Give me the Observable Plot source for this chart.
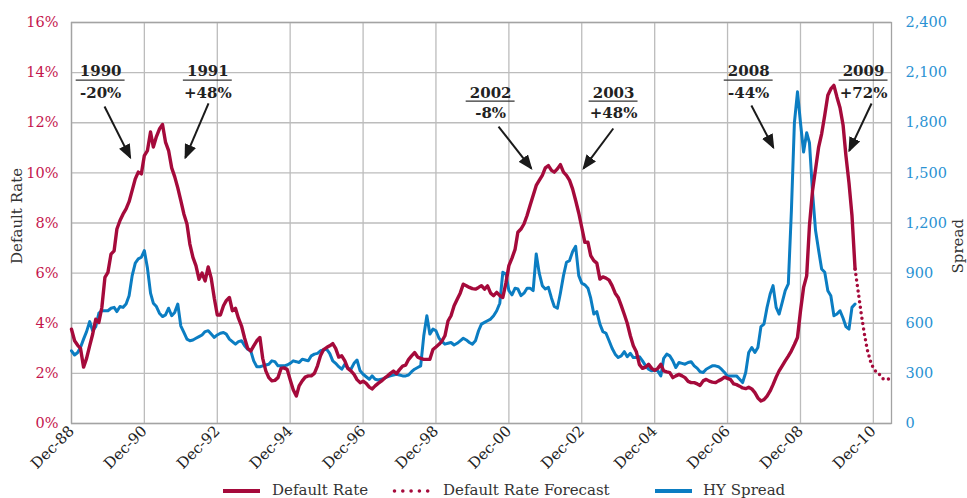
<!DOCTYPE html>
<html>
<head>
<meta charset="utf-8">
<script src="https://cdn.jsdelivr.net/npm/d3@7"></script>
<script src="https://cdn.jsdelivr.net/npm/@observablehq/plot@0.6"></script>
<style>
  body { margin: 0; background: #fff; overflow: hidden; }
  #chart { width: 967px; height: 498px; position: relative; }
  #chart svg { display: block; }
  #legend { position: relative; height: 19px; font: 15px "DejaVu Serif", serif; color: #333; }
  #legend .swatch { position: absolute; top: 8px; }
  #legend .name { position: absolute; top: 4px; line-height: 15px; white-space: nowrap; }
</style>
</head>
<body>
<div id="chart"></div>
<script>
// Monthly speculative-grade default rate (%), Dec 1988 – Jun 2010
const rateStart = "1988-12";
const defaultRate = [
  3.76,
  3.3, 3.12, 3.0, 2.25, 2.6, 3.1, 3.56, 4.16, 4.03, 4.63, 5.83, 6.03,
  6.76, 6.89, 7.76, 8.1, 8.35, 8.56, 8.85, 9.3, 9.76, 10.03, 9.96, 10.69,
  10.89, 11.63, 11.03, 11.45, 11.75, 11.93, 11.23, 10.89, 10.2, 9.85, 9.4, 8.9,
  8.36, 7.96, 7.16, 6.63, 6.3, 5.75, 6.0, 5.69, 6.25, 5.8, 5.0, 4.33,
  4.33, 4.7, 4.9, 5.03, 4.5, 4.6, 4.2, 3.89, 3.4, 3.0, 2.89, 3.1,
  3.3, 3.43, 2.6, 2.1, 1.83, 1.7, 1.72, 1.83, 2.2, 2.22, 2.16, 1.75,
  1.35, 1.1, 1.5, 1.7, 1.85, 1.9, 1.9, 2.0, 2.3, 2.7, 2.95, 3.03,
  3.1, 3.19, 3.0, 2.65, 2.7, 2.5, 2.2, 2.1, 1.96, 1.75, 1.63, 1.69,
  1.6, 1.45, 1.38, 1.5, 1.6, 1.69, 1.8, 1.89, 2.0, 2.09, 1.99, 2.15,
  2.29, 2.33, 2.55, 2.7, 2.83, 2.65, 2.6, 2.56, 2.56, 2.56, 2.95, 3.05,
  3.16, 3.3, 3.5, 4.09, 4.3, 4.7, 4.95, 5.2, 5.56, 5.5, 5.43, 5.38,
  5.36, 5.43, 5.5, 5.36, 5.49, 5.2, 5.1, 5.23, 5.1, 5.03, 5.6, 6.3,
  6.6, 6.95, 7.63, 7.76, 7.96, 8.3, 8.7, 9.1, 9.5, 9.7, 9.9, 10.2,
  10.29, 10.1, 10.03, 10.16, 10.33, 10.03, 9.9, 9.7, 9.35, 8.9, 8.4, 7.83,
  7.23, 7.23, 6.7, 6.5, 6.4, 5.76, 5.85, 5.8, 5.72, 5.5, 5.2, 5.03,
  4.7, 4.35, 4.0, 3.5, 3.1, 2.85, 2.35, 2.2, 2.25, 2.36, 2.2, 2.12,
  2.2, 2.36, 2.1, 2.06, 2.03, 1.83, 1.9, 1.96, 1.9, 1.83, 1.68, 1.63,
  1.63, 1.58, 1.52, 1.7, 1.76, 1.69, 1.65, 1.63, 1.7, 1.76, 1.85, 1.8,
  1.75, 1.58, 1.55, 1.49, 1.42, 1.39, 1.45, 1.38, 1.23, 1.02, 0.9, 0.95,
  1.09, 1.3, 1.55, 1.85, 2.1, 2.3, 2.5, 2.69, 2.9, 3.15, 3.43, 4.49,
  5.43, 5.89, 7.9, 9.3, 10.15, 11.03, 11.56, 12.3, 13.1, 13.35, 13.49, 13.03,
  12.6, 11.9, 10.7, 9.6, 8.3, 6.16
];

// Monthly default rate forecast (%), Jun 2010 – Jun 2011
const forecastStart = "2010-06";
const forecastRate = [6.16, 5.3, 4.4, 3.6, 2.95, 2.5, 2.2, 2.05, 1.95, 1.8, 1.76, 1.78, 1.76];

// Monthly high-yield spread (bp), Dec 1988 – Jun 2010
const spreadStart = "1988-12";
const hySpread = [
  435,
  410, 425, 455, 505, 550, 610, 555, 580, 660, 675, 675, 675,
  690, 695, 670, 700, 695, 715, 765, 885, 960, 985, 995, 1035,
  930, 780, 720, 700, 660, 640, 650, 690, 645, 665, 715, 585,
  545, 505, 495, 500, 510, 520, 530, 550, 555, 535, 515, 530,
  540, 545, 535, 505, 490, 475, 490, 495, 465, 445, 435, 375,
  340, 340, 345, 350, 355, 375, 370, 345, 345, 345, 350, 360,
  375, 370, 365, 385, 380, 375, 405, 415, 420, 435, 440, 445,
  420, 375, 360, 340, 325, 355, 330, 325, 360, 380, 315, 295,
  280, 265, 285, 265, 260, 265, 270, 280, 285, 290, 295, 290,
  285, 285, 290, 310, 325, 335, 345, 525, 645, 535, 565, 555,
  510, 490, 475, 480, 485, 470, 480, 495, 510, 500, 485, 475,
  495, 555, 595, 605, 615, 625, 645, 675, 720, 905, 895, 795,
  770, 810, 805, 765, 780, 810, 810, 795, 1015, 900, 825, 805,
  815, 750, 700, 690, 780, 885, 965, 975, 1030, 1060, 885, 840,
  830, 810, 750, 655, 670, 595, 550, 540, 495, 450, 415, 395,
  405, 430, 400, 420, 395, 395, 400, 375, 345, 325, 315, 320,
  315, 285, 390, 415, 405, 375, 335, 365, 360, 355, 365, 370,
  345, 330, 310, 305, 325, 335, 345, 345, 340, 325, 305, 285,
  285, 285, 285, 265, 245, 305, 425, 455, 425, 455, 580, 595,
  695, 775, 825, 695, 655, 725, 795, 835, 1275, 1800, 1985, 1800,
  1625, 1740, 1680, 1380, 1155, 1035, 925, 905, 795, 765, 645, 655,
  675, 630, 580, 565, 695, 715
];

// Axis ticks
const dateTicks = ["1988-12", "1990-12", "1992-12", "1994-12", "1996-12", "1998-12",
                   "2000-12", "2002-12", "2004-12", "2006-12", "2008-12", "2010-12"];
const rateTicks = [0, 2, 4, 6, 8, 10, 12, 14, 16];
const spreadTicks = [0, 300, 600, 900, 1200, 1500, 1800, 2100, 2400];

// Cycle callouts: year and spread change
const calloutYears = ["1990", "1991", "2002", "2003", "2008", "2009"];
const calloutChanges = ["-20%", "+48%", "-8%", "+48%", "-44%", "+72%"];

// Series names for the legend
const seriesNames = ["Default Rate", "Default Rate Forecast", "HY Spread"];

// ---- Layout and styling ----
const RED = "#a50a3b", BLUE = "#0b7dc2", RED_TEXT = "#c4164d", BLUE_TEXT = "#2a92d3";
const FONT = "DejaVu Serif";
const parseMonth = d3.utcParse("%Y-%m");
const parseDay = d3.utcParse("%Y-%m-%d");
const spreadPerPoint = spreadTicks[spreadTicks.length - 1] / rateTicks[rateTicks.length - 1];

const monthly = (start, values) =>
  values.map((v, i) => ({date: d3.utcMonth.offset(parseMonth(start), i), value: v}));

const rateSeries = monthly(rateStart, defaultRate);
const forecastSeries = monthly(forecastStart, forecastRate);
const spreadSeries = monthly(spreadStart, hySpread).map(d => ({date: d.date, value: d.value / spreadPerPoint}));
const xTicks = dateTicks.map(parseMonth);

// Callout placement (label centre, label tier, arrow tail and tip)
const calloutPlacement = [
  {at: "1989-09-19", tier: 0, from: ["1989-10-28", 12.65], to: ["1990-07-13", 10.61]},
  {at: "1992-08-28", tier: 0, from: ["1992-09-04", 12.77], to: ["1992-01-16", 10.61]},
  {at: "2000-06-01", tier: 1, from: ["2000-08-19", 11.85], to: ["2001-07-13", 10.18]},
  {at: "2003-10-16", tier: 1, from: ["2003-10-13", 11.77], to: ["2002-12-19", 10.18]},
  {at: "2007-07-01", tier: 0, from: ["2007-07-28", 12.69], to: ["2008-03-04", 11.01]},
  {at: "2010-08-25", tier: 0, from: ["2010-11-13", 12.77], to: ["2010-04-04", 10.89]}
];
const tierLevels = [
  {year: 13.85, rule: 13.7, change: 13.0},
  {year: 12.99, rule: 12.86, change: 12.18}
];
const callouts = calloutYears.map((year, i) => {
  const p = calloutPlacement[i], lv = tierLevels[p.tier], at = parseDay(p.at);
  return {
    year, change: calloutChanges[i], at,
    yearY: lv.year, ruleY: lv.rule, changeY: lv.change,
    ruleX1: d3.utcDay.offset(at, -245), ruleX2: d3.utcDay.offset(at, 245),
    x1: parseDay(p.from[0]), y1: p.from[1], x2: parseDay(p.to[0]), y2: p.to[1]
  };
});

const chart = Plot.plot({
  width: 967,
  height: 479,
  marginLeft: 71,
  marginRight: 76,
  marginTop: 22,
  marginBottom: 56,
  style: {fontFamily: FONT, fontSize: "14px", background: "#fff", overflow: "visible"},
  x: {type: "utc", domain: [parseMonth("1988-12"), parseMonth("2011-06")]},
  y: {domain: [0, 16]},
  marks: [
    Plot.gridY(rateTicks, {stroke: "#bcbcbc", strokeOpacity: 1, strokeWidth: 1.3}),
    Plot.gridX(xTicks, {stroke: "#bcbcbc", strokeOpacity: 1, strokeWidth: 1.3}),
    Plot.frame({stroke: "#a3a3a3", strokeWidth: 1.3}),
    Plot.axisY(rateTicks, {
      anchor: "left", tickSize: 0, tickPadding: 13, fill: RED_TEXT, fontSize: 14.5,
      tickFormat: d => `${d}%`, label: null
    }),
    Plot.axisY(spreadTicks.map(s => s / spreadPerPoint), {
      anchor: "right", tickSize: 0, tickPadding: 14, fill: BLUE_TEXT, fontSize: 14.5,
      tickFormat: d => d3.format(",")(Math.round(d * spreadPerPoint)), label: null
    }),
    Plot.axisX(xTicks, {
      anchor: "bottom", tickSize: 0, tickPadding: 5, tickRotate: -45, fontSize: 15,
      fill: "#222", tickFormat: d3.utcFormat("%b-%y"), label: null
    }),
    Plot.text(["Default Rate"], {frameAnchor: "left", dx: -54, dy: 41, rotate: -90, fontSize: 15, fill: "#333"}),
    Plot.text(["Spread"], {frameAnchor: "right", dx: 67, dy: -4, rotate: -90, fontSize: 15, fill: "#333"}),
    Plot.line(spreadSeries, {x: "date", y: "value", stroke: BLUE, strokeWidth: 3, strokeLinejoin: "round"}),
    Plot.line(forecastSeries, {
      x: "date", y: "value", stroke: RED, strokeWidth: 3.5,
      strokeDasharray: "0 5.5", strokeLinecap: "round"
    }),
    Plot.line(rateSeries, {x: "date", y: "value", stroke: RED, strokeWidth: 3.4, strokeLinejoin: "round"}),
    Plot.text(callouts, {x: "at", y: "yearY", text: "year", lineAnchor: "bottom", fontWeight: "bold", fontSize: 15, fill: "#222"}),
    Plot.ruleY(callouts, {y: "ruleY", x1: "ruleX1", x2: "ruleX2", stroke: "#333", strokeWidth: 1.2}),
    Plot.text(callouts, {x: "at", y: "changeY", text: "change", lineAnchor: "bottom", fontWeight: "bold", fontSize: 15, fill: "#222"}),
    Plot.link(callouts, {x1: "x1", y1: "y1", x2: "x2", y2: "y2", stroke: "#1a1a1a", strokeWidth: 2})
  ]
});

// Filled arrowheads for the callout arrows
const ns = "http://www.w3.org/2000/svg";
const defs = document.createElementNS(ns, "defs");
const marker = document.createElementNS(ns, "marker");
marker.setAttribute("id", "callout-head");
marker.setAttribute("viewBox", "0 0 15 12");
marker.setAttribute("refX", "13");
marker.setAttribute("refY", "6");
marker.setAttribute("markerWidth", "15");
marker.setAttribute("markerHeight", "12");
marker.setAttribute("markerUnits", "userSpaceOnUse");
marker.setAttribute("orient", "auto");
const head = document.createElementNS(ns, "path");
head.setAttribute("d", "M0,0L15,6L0,12Z");
head.setAttribute("fill", "#1a1a1a");
marker.appendChild(head);
defs.appendChild(marker);
chart.insertBefore(defs, chart.firstChild);
chart.querySelectorAll('g[aria-label="link"] path').forEach(p => p.setAttribute("marker-end", "url(#callout-head)"));

const root = document.getElementById("chart");
root.appendChild(chart);

// Legend below the plot
const legendLayout = [
  {swatch: 223, text: 272, color: RED, dash: null, width: 4},
  {swatch: 393, text: 443, color: RED, dash: "0 8.3", width: 3.6},
  {swatch: 655, text: 703, color: BLUE, dash: null, width: 4}
];
const legend = document.createElement("div");
legend.id = "legend";
seriesNames.forEach((name, i) => {
  const L = legendLayout[i];
  const sw = document.createElementNS(ns, "svg");
  sw.setAttribute("class", "swatch");
  sw.setAttribute("width", "39");
  sw.setAttribute("height", "8");
  sw.style.left = (L.swatch - 1) + "px";
  const ln = document.createElementNS(ns, "line");
  ln.setAttribute("x1", L.dash ? 2.5 : 1);
  ln.setAttribute("x2", 38);
  ln.setAttribute("y1", 4);
  ln.setAttribute("y2", 4);
  ln.setAttribute("stroke", L.color);
  ln.setAttribute("stroke-width", L.width);
  if (L.dash) {
    ln.setAttribute("stroke-dasharray", L.dash);
    ln.setAttribute("stroke-linecap", "round");
  }
  sw.appendChild(ln);
  legend.appendChild(sw);
  const label = document.createElement("span");
  label.className = "name";
  label.style.left = L.text + "px";
  label.textContent = name;
  legend.appendChild(label);
});
root.appendChild(legend);
</script>
</body>
</html>
